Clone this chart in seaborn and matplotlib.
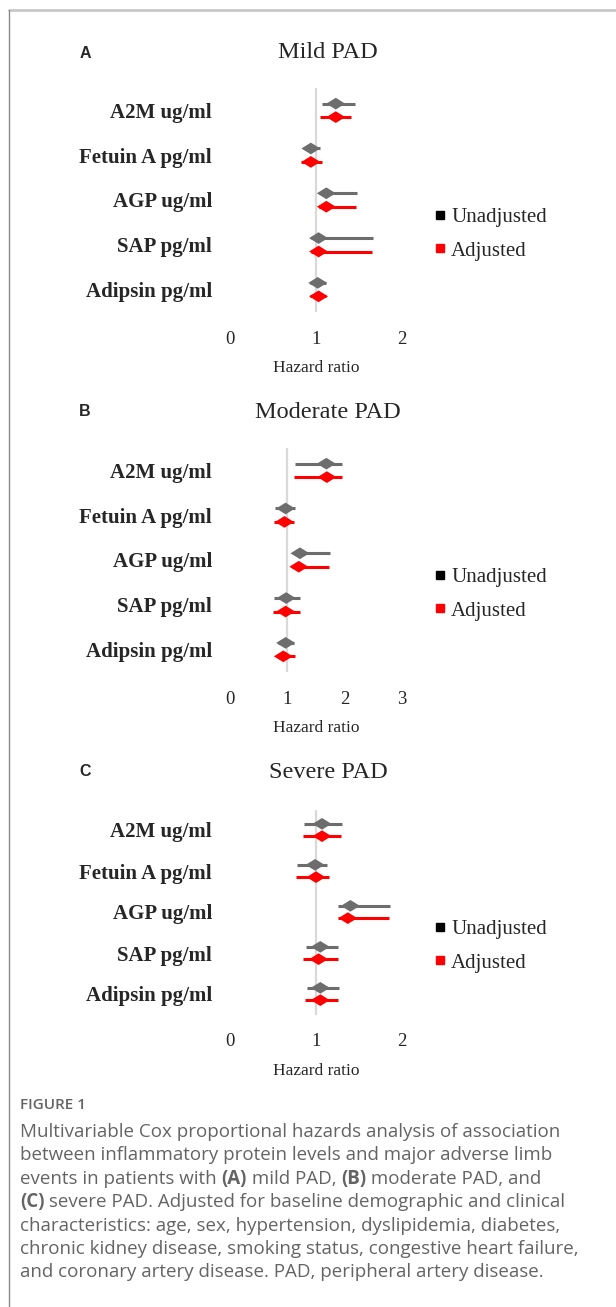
import numpy as np
import pandas as pd
import matplotlib
matplotlib.use("Agg")
import matplotlib.pyplot as plt
import seaborn as sns
from matplotlib.lines import Line2D
from matplotlib.path import Path

# ---- data ----
proteins = ['A2M ug/ml', 'Fetuin A pg/ml', 'AGP ug/ml', 'SAP pg/ml', 'Adipsin pg/ml']

mild_unadj_hr = [1.23, 0.94, 1.12, 1.03, 1.02]
mild_unadj_lo = [1.07, 0.88, 1.04, 0.94, 0.93]
mild_unadj_hi = [1.45, 1.05, 1.48, 1.66, 1.12]
mild_adj_hr = [1.23, 0.94, 1.12, 1.03, 1.03]
mild_adj_lo = [1.05, 0.82, 1.04, 0.94, 0.93]
mild_adj_hi = [1.41, 1.07, 1.47, 1.65, 1.12]

moderate_unadj_hr = [1.68, 0.97, 1.22, 0.98, 0.97]
moderate_unadj_lo = [1.13, 0.78, 1.11, 0.76, 0.83]
moderate_unadj_hi = [1.95, 1.13, 1.74, 1.22, 1.12]
moderate_adj_hr = [1.69, 0.95, 1.20, 0.97, 0.93]
moderate_adj_lo = [1.11, 0.76, 1.09, 0.75, 0.82]
moderate_adj_hi = [1.96, 1.12, 1.73, 1.22, 1.14]

severe_unadj_hr = [1.07, 0.99, 1.40, 1.05, 1.05]
severe_unadj_lo = [0.86, 0.78, 1.26, 0.88, 0.89]
severe_unadj_hi = [1.30, 1.13, 1.86, 1.26, 1.27]
severe_adj_hr = [1.07, 1.00, 1.37, 1.03, 1.05]
severe_adj_lo = [0.85, 0.77, 1.25, 0.85, 0.87]
severe_adj_hi = [1.29, 1.15, 1.85, 1.25, 1.26]

models = ['Unadjusted', 'Adjusted']
mild_ticks = [0, 1, 2]
moderate_ticks = [0, 1, 2, 3]
severe_ticks = [0, 1, 2]

caption_lines = [
    [("Multivariable Cox proportional hazards analysis of association", "normal")],
    [("between inflammatory protein levels and major adverse limb", "normal")],
    [("events in patients with ", "normal"), ("(A)", "bold"), (" mild PAD, ", "normal"),
     ("(B)", "bold"), (" moderate PAD, and", "normal")],
    [("(C)", "bold"), (" severe PAD. Adjusted for baseline demographic and clinical", "normal")],
    [("characteristics: age, sex, hypertension, dyslipidemia, diabetes,", "normal")],
    [("chronic kidney disease, smoking status, congestive heart failure,", "normal")],
    [("and coronary artery disease. PAD, peripheral artery disease.", "normal")],
]

# ---- style ----
sns.set_style("white")
plt.rcParams['font.family'] = ['Liberation Serif', 'DejaVu Serif']

W, H = 616, 1307
fig = plt.figure(figsize=(W / 100, H / 100), dpi=100)

GRAY = '#6d6d6d'
palette = {'Unadjusted': GRAY, 'Adjusted': '#ff0000'}
diamond = Path([(-1, 0), (0, 0.62), (1, 0), (0, -0.62), (-1, 0)],
               [Path.MOVETO, Path.LINETO, Path.LINETO, Path.LINETO, Path.CLOSEPOLY])


def fx(x):
    return x / W


def fy(y):
    return 1 - y / H


def make_df(unadj, adj):
    rows = []
    for model, (hr, lo, hi) in zip(models, [unadj, adj]):
        off = -0.15 if model == 'Unadjusted' else 0.15
        for i, p in enumerate(proteins):
            rows.append({'protein': p, 'model': model, 'pos': i + off,
                         'hr': hr[i], 'lo': lo[i], 'hi': hi[i]})
    return pd.DataFrame(rows)


def panel(letter, title, df, ticks, top, bottom, title_y, legend_y):
    ax = fig.add_axes([fx(230), fy(bottom), fx(402) - fx(230), fy(top) - fy(bottom)])
    ax.axvline(1, color='#d9d9d9', lw=1.6, zorder=0)
    for model in models:
        sub = df[df['model'] == model]
        ax.hlines(sub['pos'], sub['lo'], sub['hi'], color=palette[model], lw=2.2, zorder=1)
    sns.scatterplot(data=df, x='hr', y='pos', hue='model', palette=palette,
                    marker=diamond, s=185, linewidth=0, legend=False, ax=ax, zorder=2)
    ax.set_xlim(ticks[0], ticks[-1])
    ax.set_ylim(4.5, -0.5)
    ax.set_xticks(ticks)
    ax.set_xticklabels([str(t) for t in ticks], fontsize=13.5)
    ax.set_yticks(range(len(proteins)))
    ax.set_yticklabels(proteins, fontsize=15, fontweight='bold')
    ax.tick_params(axis='x', length=0, pad=13.5)
    ax.tick_params(axis='y', length=0, pad=13)
    ax.set_xlabel('Hazard ratio', fontsize=12.5, labelpad=9)
    ax.set_ylabel('')
    for s in ax.spines.values():
        s.set_visible(False)
    ax.set_facecolor('none')

    fig.text(fx(328), fy(title_y), title, fontsize=17.5, ha='center', va='center')
    fig.text(fx(85), fy(title_y), letter, fontsize=11.5, fontweight='bold',
             family='Liberation Sans', ha='center', va='center')

    handles = [Line2D([], [], ls='', marker='s', ms=6, color='black'),
               Line2D([], [], ls='', marker='s', ms=6, color='#ff0000')]
    ax.legend(handles, models, loc='center left', bbox_to_anchor=(fx(434), fy(legend_y)),
              bbox_transform=fig.transFigure, frameon=False, fontsize=15,
              handlelength=0.55, handletextpad=0.28, labelspacing=0.68, borderpad=0,
              borderaxespad=0)
    return ax


panel('A', 'Mild PAD',
      make_df((mild_unadj_hr, mild_unadj_lo, mild_unadj_hi),
              (mild_adj_hr, mild_adj_lo, mild_adj_hi)),
      mild_ticks, 88, 312, 53, 234)
panel('B', 'Moderate PAD',
      make_df((moderate_unadj_hr, moderate_unadj_lo, moderate_unadj_hi),
              (moderate_adj_hr, moderate_adj_lo, moderate_adj_hi)),
      moderate_ticks, 448, 672, 412, 594)
panel('C', 'Severe PAD',
      make_df((severe_unadj_hr, severe_unadj_lo, severe_unadj_hi),
              (severe_adj_hr, severe_adj_lo, severe_adj_hi)),
      severe_ticks, 809.5, 1014.5, 772, 946)

# ---- frame lines and caption ----
fig.add_artist(Line2D([fx(9), 1], [fy(10), fy(10)], color='#c8c8c8', lw=2))
fig.add_artist(Line2D([fx(9), fx(9)], [fy(10), 0], color='#8a8a8a', lw=1))

cap = fig.add_axes([0, 0, 1, 1])
cap.axis('off')
cap.set_xlim(0, W)
cap.set_ylim(H, 0)
CAP = '#646464'
cap.text(20, 1105, 'FIGURE 1', family='Open Sans', fontweight='semibold',
         fontsize=11, color=CAP, va='center')
for k, line in enumerate(caption_lines):
    y = 1132 + k * 23.4
    prev = None
    for txt, wt in line:
        if prev is None:
            prev = cap.text(20, y, txt, family='Open Sans', fontweight=wt,
                            fontsize=13.5, color=CAP, va='center')
        else:
            prev = cap.annotate(txt, xy=(1, 0.5), xycoords=prev, va='center',
                                family='Open Sans', fontweight=wt,
                                fontsize=13.5, color=CAP)

fig.savefig('out.png', dpi=100, facecolor='white')
